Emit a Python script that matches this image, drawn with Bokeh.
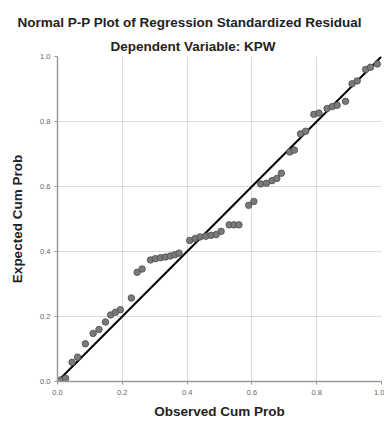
from bokeh.plotting import figure
from bokeh.models import Title, FixedTicker, Range1d
from bokeh.embed import file_html
from bokeh.resources import INLINE

# Observed cumulative probability (x) and expected cumulative probability (y)
observed_cum = [0.010, 0.025, 0.045, 0.062, 0.086, 0.110, 0.128, 0.148, 0.164, 0.179,
                0.194, 0.228, 0.246, 0.261, 0.287, 0.302, 0.318, 0.333, 0.348, 0.362,
                0.375, 0.408, 0.425, 0.440, 0.458, 0.474, 0.490, 0.505, 0.530, 0.545,
                0.560, 0.590, 0.606, 0.627, 0.645, 0.662, 0.677, 0.691, 0.717, 0.731,
                0.750, 0.766, 0.791, 0.807, 0.832, 0.848, 0.863, 0.889, 0.909, 0.925,
                0.951, 0.966, 0.987]
expected_cum = [0.005, 0.010, 0.059, 0.075, 0.116, 0.148, 0.160, 0.183, 0.205, 0.213,
                0.221, 0.257, 0.336, 0.346, 0.374, 0.378, 0.381, 0.383, 0.386, 0.390,
                0.395, 0.434, 0.440, 0.445, 0.447, 0.450, 0.452, 0.462, 0.482, 0.482,
                0.482, 0.542, 0.554, 0.608, 0.610, 0.618, 0.625, 0.641, 0.706, 0.712,
                0.762, 0.770, 0.822, 0.826, 0.840, 0.846, 0.850, 0.862, 0.916, 0.925,
                0.960, 0.967, 0.977]
ref_line_x = [0.0, 1.0]
ref_line_y = [0.0, 1.0]
tick_values = [0.0, 0.2, 0.4, 0.6, 0.8, 1.0]
tick_labels = {0.0: "0.0", 0.2: "0.2", 0.4: "0.4", 0.6: "0.6", 0.8: "0.8", 1.0: "1.0"}

title_text = "Normal P-P Plot of Regression Standardized Residual"
subtitle_text = "Dependent Variable: KPW"

FONT = "Liberation Sans"

p = figure(width=384, height=425, output_backend="svg", toolbar_location=None,
           x_range=Range1d(0, 1), y_range=Range1d(0, 1),
           min_border_left=57, min_border_right=3, min_border_top=56, min_border_bottom=44)
p.outline_line_color = None
p.background_fill_color = "white"
p.border_fill_color = "white"

for ax in (p.xaxis[0], p.yaxis[0]):
    ax.ticker = FixedTicker(ticks=tick_values)
    ax.major_label_overrides = tick_labels
    ax.major_label_text_font = FONT
    ax.major_label_text_font_size = "7.5px"
    ax.major_label_text_color = "#666666"
    ax.axis_line_color = "#9a9a9a"
    ax.axis_line_width = 1.5
    ax.major_tick_line_color = "#9a9a9a"
    ax.major_tick_out = 3
    ax.major_tick_in = 0
    ax.minor_tick_line_color = None
    ax.axis_label_text_font = FONT
    ax.axis_label_text_font_style = "bold"
    ax.axis_label_text_font_size = "13.5px"
    ax.axis_label_text_color = "#222222"

p.xaxis.axis_label = "Observed Cum Prob"
p.yaxis.axis_label = "Expected Cum Prob"
p.xaxis.major_label_standoff = 5
p.yaxis.major_label_standoff = 4
p.xaxis.axis_label_standoff = 6
p.yaxis.axis_label_standoff = 12

p.grid.ticker = FixedTicker(ticks=tick_values)
p.grid.grid_line_color = "#dcdcdc"
p.grid.grid_line_width = 1

p.line(ref_line_x, ref_line_y, line_color="black", line_width=2)
p.scatter(observed_cum, expected_cum, marker="circle", size=6.5,
          fill_color="#7a7a7a", line_color="#4a4a4a", line_width=0.8)

p.title.text = title_text
p.title.align = "left"
p.title.offset = -40
p.title.standoff = 8
p.title.text_font = FONT
p.title.text_font_style = "bold"
p.title.text_font_size = "13.5px"
p.title.text_color = "#222222"

sub_title = Title(text=subtitle_text, align="left", offset=53, standoff=6,
                  text_font=FONT, text_font_style="bold", text_font_size="13.5px",
                  text_color="#222222")
p.add_layout(sub_title, "above")

open("out.html", "w").write(file_html(p, INLINE))
